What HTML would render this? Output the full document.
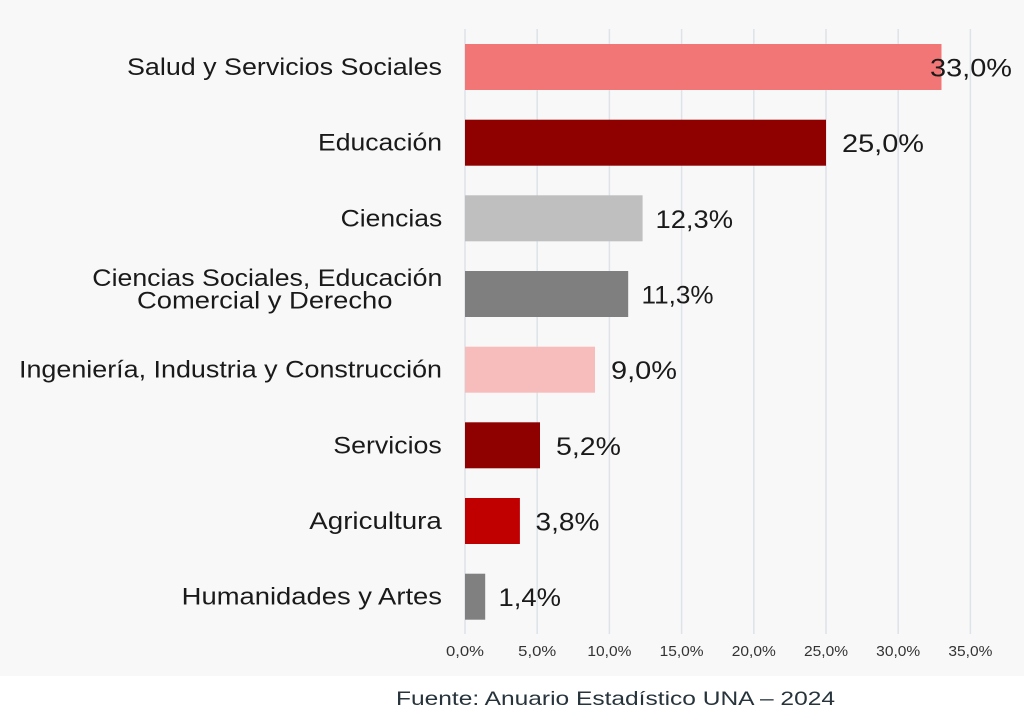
<!DOCTYPE html>
<html><head><meta charset="utf-8"><style>
html,body{margin:0;padding:0;background:#fff;}
svg{display:block;}
text{font-family:"Liberation Sans",Arial,sans-serif;}
</style></head><body>
<svg width="1024" height="723" viewBox="0 0 1024 723" xmlns="http://www.w3.org/2000/svg">
<rect x="0" y="0" width="1024" height="676" fill="#f8f8f8"/>
<rect x="0" y="676" width="1024" height="47" fill="#ffffff"/>
<g stroke="#dde3e8" stroke-width="1.5">
<line x1="465" y1="29" x2="465" y2="634"/>
<line x1="537.2" y1="29" x2="537.2" y2="634"/>
<line x1="609.4" y1="29" x2="609.4" y2="634"/>
<line x1="681.6" y1="29" x2="681.6" y2="634"/>
<line x1="753.8" y1="29" x2="753.8" y2="634"/>
<line x1="826" y1="29" x2="826" y2="634"/>
<line x1="898.2" y1="29" x2="898.2" y2="634"/>
<line x1="970.4" y1="29" x2="970.4" y2="634"/>
</g>
<g>
<rect x="465" y="44" width="476.5" height="46" fill="#f27676"/>
<rect x="465" y="119.7" width="361" height="46" fill="#8f0000"/>
<rect x="465" y="195.3" width="177.6" height="46" fill="#bfbfbf"/>
<rect x="465" y="271" width="163.2" height="46" fill="#7f7f7f"/>
<rect x="465" y="346.7" width="130" height="46" fill="#f7bcbc"/>
<rect x="465" y="422.3" width="75" height="46" fill="#8f0000"/>
<rect x="465" y="498" width="54.9" height="46" fill="#c00000"/>
<rect x="465" y="573.7" width="20.2" height="46" fill="#808080"/>
</g>
<g fill="#1a1a1a" font-size="24">
<text x="127" y="75" textLength="315" lengthAdjust="spacingAndGlyphs">Salud y Servicios Sociales</text>
<text x="318" y="150.7" textLength="124" lengthAdjust="spacingAndGlyphs">Educación</text>
<text x="340.7" y="226.3" textLength="101.5" lengthAdjust="spacingAndGlyphs">Ciencias</text>
<text x="92.3" y="286" textLength="350" lengthAdjust="spacingAndGlyphs">Ciencias Sociales, Educación</text>
<text x="137" y="308.3" textLength="255.5" lengthAdjust="spacingAndGlyphs">Comercial y Derecho</text>
<text x="19" y="377.7" textLength="423" lengthAdjust="spacingAndGlyphs">Ingeniería, Industria y Construcción</text>
<text x="333.3" y="453.3" textLength="108.5" lengthAdjust="spacingAndGlyphs">Servicios</text>
<text x="309.3" y="529" textLength="132.5" lengthAdjust="spacingAndGlyphs">Agricultura</text>
<text x="181.7" y="604.7" textLength="260.3" lengthAdjust="spacingAndGlyphs">Humanidades y Artes</text>
</g>
<g fill="#1a1a1a" font-size="25">
<text x="930" y="76.5" textLength="82" lengthAdjust="spacingAndGlyphs">33,0%</text>
<text x="842" y="152.2" textLength="82" lengthAdjust="spacingAndGlyphs">25,0%</text>
<text x="655.5" y="227.8" textLength="77.5" lengthAdjust="spacingAndGlyphs">12,3%</text>
<text x="641.5" y="303.5" textLength="72" lengthAdjust="spacingAndGlyphs">11,3%</text>
<text x="611" y="379.2" textLength="66" lengthAdjust="spacingAndGlyphs">9,0%</text>
<text x="556" y="454.8" textLength="65" lengthAdjust="spacingAndGlyphs">5,2%</text>
<text x="535.5" y="530.5" textLength="64" lengthAdjust="spacingAndGlyphs">3,8%</text>
<text x="498.5" y="606.2" textLength="62.5" lengthAdjust="spacingAndGlyphs">1,4%</text>
</g>
<g fill="#333333" font-size="14.5">
<text x="446" y="656" textLength="38" lengthAdjust="spacingAndGlyphs">0,0%</text>
<text x="518.2" y="656" textLength="38" lengthAdjust="spacingAndGlyphs">5,0%</text>
<text x="587.4" y="656" textLength="44" lengthAdjust="spacingAndGlyphs">10,0%</text>
<text x="659.6" y="656" textLength="44" lengthAdjust="spacingAndGlyphs">15,0%</text>
<text x="731.8" y="656" textLength="44" lengthAdjust="spacingAndGlyphs">20,0%</text>
<text x="804" y="656" textLength="44" lengthAdjust="spacingAndGlyphs">25,0%</text>
<text x="876.2" y="656" textLength="44" lengthAdjust="spacingAndGlyphs">30,0%</text>
<text x="948.4" y="656" textLength="44" lengthAdjust="spacingAndGlyphs">35,0%</text>
</g>
<text x="396" y="705" font-size="19.5" fill="#27343c" textLength="439" lengthAdjust="spacingAndGlyphs">Fuente: Anuario Estadístico UNA – 2024</text>
</svg>
</body></html>
